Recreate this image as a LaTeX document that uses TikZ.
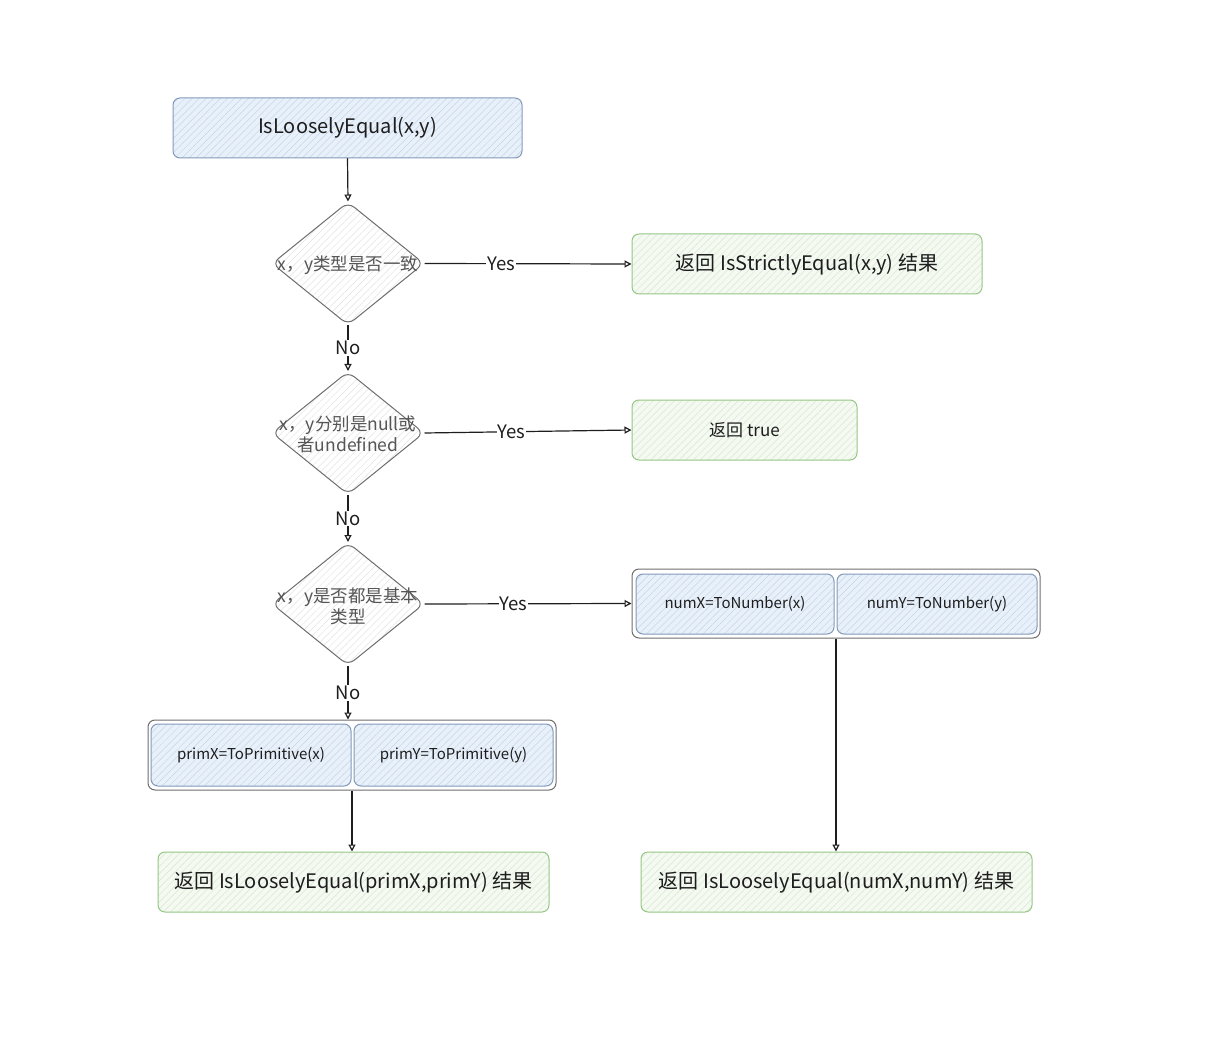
\documentclass[tikz,border=0pt]{standalone}
\usepackage{fontspec}
\setmainfont{Noto Sans CJK SC}
\usetikzlibrary{shapes.geometric,arrows.meta,patterns.meta}

\definecolor{ink}{HTML}{1E1E1E}
\definecolor{blueline}{HTML}{8399BA}
\definecolor{bluefill}{HTML}{E8F0FA}
\definecolor{bluehatch}{HTML}{C8D6E8}
\definecolor{greenline}{HTML}{95C685}
\definecolor{greenfill}{HTML}{F4F9F1}
\definecolor{greenhatch}{HTML}{D8E8D0}
\definecolor{grayline}{HTML}{6E6E6E}
\definecolor{grayhatch}{HTML}{E4E4E4}
\definecolor{diamtext}{HTML}{555555}

\tikzset{
  x=1pt, y=-1pt,
  hatch/.style={pattern={Lines[angle=45,distance=5pt,line width=0.5pt]}, pattern color=#1},
  bluebox/.style={draw=blueline, line width=1pt, rounded corners=7pt,
    preaction={fill=bluefill}, hatch=bluehatch, text=ink, inner sep=0pt},
  greenbox/.style={draw=greenline, line width=1pt, rounded corners=7pt,
    preaction={fill=greenfill}, hatch=greenhatch, text=ink, inner sep=0pt,
    font=\fontsize{20}{24}\selectfont},
  groupbox/.style={draw=grayline, line width=1pt, rounded corners=7pt, fill=white, inner sep=0pt},
  decision/.style={diamond, draw=grayline, line width=1pt, rounded corners=8pt,
    preaction={fill=white}, hatch=grayhatch, inner sep=0pt,
    minimum width=152pt, minimum height=123pt},
  decisiontext/.style={text=diamtext, align=center, inner sep=0pt,
    font=\fontsize{17.5}{21}\selectfont},
  flow/.style={draw=ink, line width=1.2pt, -{Triangle[open,length=7pt,width=7pt]}},
  answer/.style={fill=white, inner sep=1pt, text=ink, font=\fontsize{18.5}{20}\selectfont},
}

\begin{document}
\begin{tikzpicture}
\useasboundingbox (0,0) rectangle (1231,1040);

% start
\node[bluebox, minimum width=349pt, minimum height=60pt,
  font=\fontsize{20}{24}\selectfont] (start) at (347.5,128) {IsLooselyEqual(x,y)};

% decisions
\node[decision] (d1) at (348,263.5) {};
\node[decisiontext] (d1t) at (348,265) {x，y类型是否一致};

\node[decision] (d2) at (348,433) {};
\node[decisiontext] (d2t) at (348,434) {x，y分别是null或\\者undefined};

\node[decision] (d3) at (348,604) {};
\node[decisiontext] (d3t) at (348,606) {x，y是否都是基本\\类型};

% results on the right
\node[greenbox, minimum width=350pt, minimum height=60pt] (r1) at (807,264)
  {返回 IsStrictlyEqual(x,y) 结果};
\node[greenbox, minimum width=225pt, minimum height=60pt,
  font=\fontsize{17}{20}\selectfont] (r2) at (744.5,430) {返回 true};

% numeric conversion group
\node[groupbox, minimum width=408pt, minimum height=69pt] (gR) at (836,603.5) {};
\node[bluebox, minimum width=198pt, minimum height=60pt,
  font=\fontsize{15}{18}\selectfont] (nX) at (735,604) {numX=ToNumber(x)};
\node[bluebox, minimum width=200pt, minimum height=60pt,
  font=\fontsize{15}{18}\selectfont] (nY) at (937,604) {numY=ToNumber(y)};

% primitive conversion group
\node[groupbox, minimum width=408pt, minimum height=70pt] (gL) at (352,755) {};
\node[bluebox, minimum width=200pt, minimum height=62pt,
  font=\fontsize{15}{18}\selectfont] (pX) at (251,755) {primX=ToPrimitive(x)};
\node[bluebox, minimum width=199pt, minimum height=62pt,
  font=\fontsize{15}{18}\selectfont] (pY) at (453.5,755) {primY=ToPrimitive(y)};

% final results
\node[greenbox, minimum width=391pt, minimum height=60pt] (rL) at (353.5,882)
  {返回 IsLooselyEqual(primX,primY) 结果};
\node[greenbox, minimum width=391pt, minimum height=60pt] (rR) at (836.5,882)
  {返回 IsLooselyEqual(numX,numY) 结果};

% connectors
\draw[flow] (start.south) -- (d1.north);
\draw[flow] (d1.east) -- node[answer, pos=0.37] {Yes} (r1.west);
\draw[flow] (d1.south) -- node[answer] {No} (d2.north);
\draw[flow] (d2.east) -- node[answer, pos=0.42] {Yes} (r2.west);
\draw[flow] (d2.south) -- node[answer] {No} (d3.north);
\draw[flow] (d3.east) -- node[answer, pos=0.43] {Yes} (gR.west);
\draw[flow] (d3.south) -- node[answer] {No} (d3.south |- gL.north);
\draw[flow] (gL.south) -- (gL.south |- rL.north);
\draw[flow] (gR.south) -- (gR.south |- rR.north);
\end{tikzpicture}
\end{document}
